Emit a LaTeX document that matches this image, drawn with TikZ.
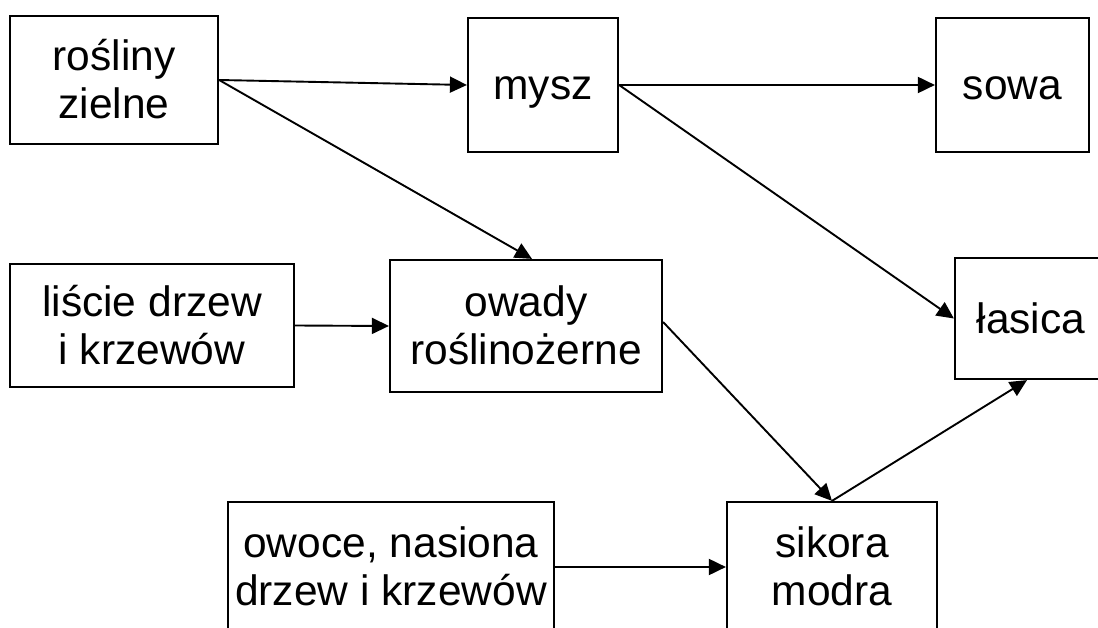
\documentclass[tikz,border=0pt]{standalone}
\usepackage{fontspec}
\setmainfont{Liberation Sans}
\usetikzlibrary{arrows.meta}
\newcommand\topstrut{\rule{0pt}{0.905em}}
\newcommand\botstrut{\rule[-0.212em]{0pt}{0pt}}
\begin{document}
\begin{tikzpicture}[x=1pt,y=-1pt,
  box/.style={draw=black,line width=2.2pt,rectangle,inner sep=0pt,align=center,
    font=\fontsize{42.5}{48.3}\selectfont},
  link/.style={line width=1.9pt,-{Triangle[length=17pt,width=16pt]}}]
\clip (0,0) rectangle (1098,628);
\fill[white] (0,0) rectangle (1098,628);
\node[box,minimum width=208pt,minimum height=128pt] (rosliny) at (114,80) {\topstrut rośliny\\zielne\botstrut};
\node[box,minimum width=150pt,minimum height=134pt] (mysz) at (543,85) {\topstrut mysz\botstrut};
\node[box,minimum width=153pt,minimum height=134pt] (sowa) at (1012.5,85) {\topstrut sowa\botstrut};
\node[box,minimum width=284pt,minimum height=123pt] (liscie) at (152,325.5) {\topstrut liście drzew\\i krzewów\botstrut};
\node[box,minimum width=272pt,minimum height=132pt] (owady) at (526,326) {\topstrut owady\\roślinożerne\botstrut};
\node[box,minimum width=152pt,minimum height=121pt] (lasica) at (1031,318.5) {\topstrut łasica\botstrut};
\node[box,minimum width=326pt,minimum height=130pt] (owoce) at (391,567) {\topstrut owoce, nasiona\\drzew i krzewów\botstrut};
\node[box,minimum width=210pt,minimum height=130pt] (sikora) at (832,567) {\topstrut sikora\\modra\botstrut};
\draw[link] (rosliny.east) -- (mysz.west);
\draw[link] (rosliny.east) -- ([xshift=6pt]owady.north);
\draw[link] (mysz.east) -- (sowa.west);
\draw[link] (mysz.east) -- (lasica.west);
\draw[link] (liscie.east) -- (owady.west);
\draw[link] ([yshift=4pt]owady.east) -- (sikora.north);
\draw[link] (sikora.north) -- ([xshift=-4pt]lasica.south);
\draw[link] (owoce.east) -- (sikora.west);
\end{tikzpicture}
\end{document}
